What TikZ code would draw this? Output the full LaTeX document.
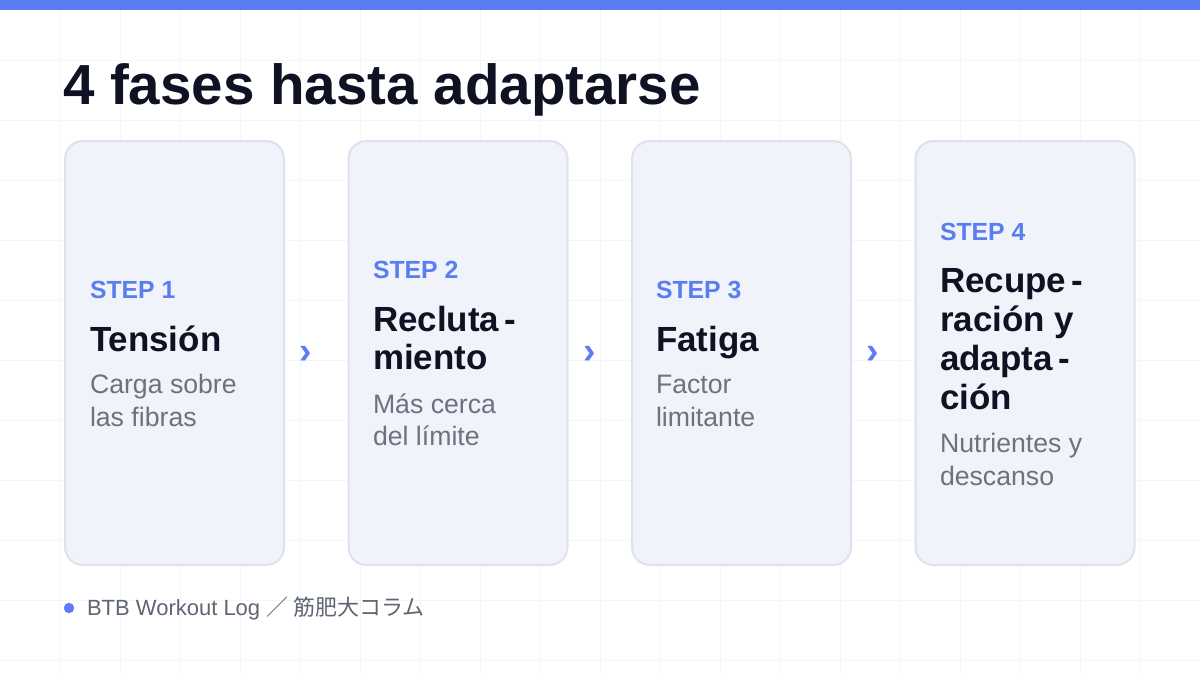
\documentclass[tikz,border=0pt]{standalone}
\usepackage{fontspec}
\setmainfont{Liberation Sans}
\newfontfamily\cjk{Noto Sans CJK JP}
\definecolor{accent}{HTML}{5B7CF5}
\definecolor{stepblue}{HTML}{5A7DF0}
\definecolor{titleink}{HTML}{0F1222}
\definecolor{descgray}{HTML}{6B7280}
\definecolor{footgray}{HTML}{5E6573}
\definecolor{cardfill}{HTML}{F1F3FA}
\definecolor{cardline}{HTML}{DEE2EF}
\definecolor{gridcol}{HTML}{F4F5F8}
\begin{document}
\begin{tikzpicture}[x=0.75pt,y=-0.75pt,
  gridline/.style={draw=gridcol,line width=0.75pt},
  card/.style={draw=cardline,fill=cardfill,line width=1.5pt,rounded corners=13.5pt,
    minimum width=164.25pt,minimum height=318pt,inner sep=0pt},
  txt/.style={inner sep=0pt,outer sep=0pt,anchor=base west},
  steplbl/.style={txt,text=stepblue,font=\bfseries\fontsize{18.6}{22}\selectfont},
  headlbl/.style={txt,text=titleink,font=\bfseries\fontsize{26.2}{30}\selectfont},
  desclbl/.style={txt,text=descgray,font=\fontsize{20}{24}\selectfont},
  chev/.style={inner sep=0pt,text=accent,font=\bfseries\fontsize{28}{32}\selectfont}]
\useasboundingbox (0,0) rectangle (1200,675);
\fill[white] (0,0) rectangle (1200,675);
\foreach \x in {60,120,...,1140} \draw[gridline] (\x,10) -- (\x,675);
\foreach \y in {60,120,...,660} \draw[gridline] (0,\y) -- (1200,\y);
\fill[accent] (0,0) rectangle (1200,10);
% title
\node[txt,text=titleink,font=\bfseries\fontsize{42.4}{50}\selectfont] (title) at (63,104) {4 fases hasta adaptarse};
% cards
\node[card] (c1) at (174.5,353) {};
\node[card] (c2) at (458,353) {};
\node[card] (c3) at (741.5,353) {};
\node[card] (c4) at (1025,353) {};
% chevrons
\node[chev] (a1) at (306,355) {›};
\node[chev] (a2) at (590,355) {›};
\node[chev] (a3) at (873,355) {›};
% card 1
\node[steplbl] (s1) at (90,298) {STEP 1};
\node[headlbl] (h1) at (90,351) {Tensión};
\node[desclbl] (d1a) at (90,393) {Carga sobre};
\node[desclbl] (d1b) at (90,426) {las fibras};
% card 2
\node[steplbl] (s2) at (373,278) {STEP 2};
\node[headlbl] (h2a) at (373,331) {Recluta\,-};
\node[headlbl] (h2b) at (373,369) {miento};
\node[desclbl] (d2a) at (373,413) {Más cerca};
\node[desclbl] (d2b) at (373,445) {del límite};
% card 3
\node[steplbl] (s3) at (656,298) {STEP 3};
\node[headlbl] (h3) at (656,351) {Fatiga};
\node[desclbl] (d3a) at (656,393) {Factor};
\node[desclbl] (d3b) at (656,426) {limitante};
% card 4
\node[steplbl] (s4) at (940,240) {STEP 4};
\node[headlbl] (h4a) at (940,292) {Recupe\,-};
\node[headlbl] (h4b) at (940,331) {ración y};
\node[headlbl] (h4c) at (940,370) {adapta\,-};
\node[headlbl] (h4d) at (940,409) {ción};
\node[desclbl] (d4a) at (940,452) {Nutrientes y};
\node[desclbl] (d4b) at (940,485) {descanso};
% footer
\fill[accent] (69,608) circle[radius=3.9pt];
\node[txt,text=footgray,font=\fontsize{16.5}{20}\selectfont] (foot) at (87,615) {BTB Workout Log {\cjk ／ 筋肥大コラム}};
\end{tikzpicture}
\end{document}
